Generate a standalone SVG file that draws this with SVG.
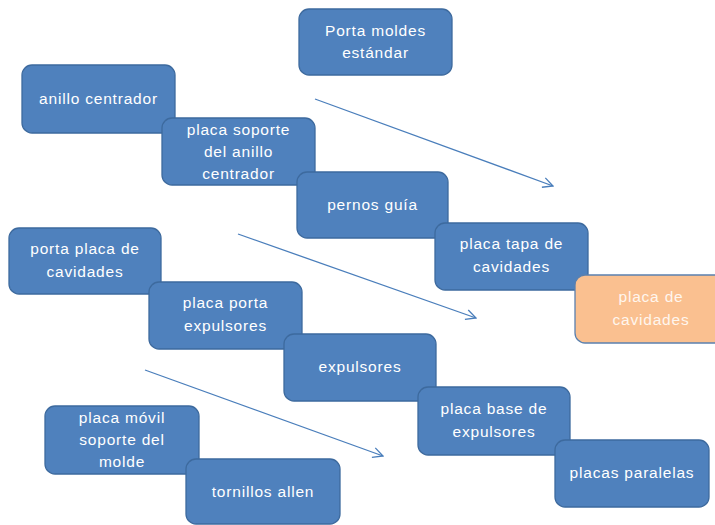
<svg xmlns="http://www.w3.org/2000/svg" width="715" height="525" viewBox="0 0 715 525">
<defs>
<style>
.b{fill:#4F81BD;stroke:#3D6A9E;stroke-width:1.3}
.o{fill:#FAC090;stroke:#5B80AE;stroke-width:1.3}
.t{font-family:"Liberation Sans",Arial,sans-serif;font-size:15.5px;letter-spacing:0.8px;fill:#FFFFFF;text-anchor:middle}
.to{fill:#FFF6EE}
.c{stroke:#4A7EBB;stroke-width:1.3;fill:none}
</style>
<marker id="ah" viewBox="0 0 12 12" refX="11" refY="6" markerWidth="12" markerHeight="12" markerUnits="userSpaceOnUse" orient="auto">
<path d="M1,1 L11,6 L1,11" fill="none" stroke="#4A7EBB" stroke-width="1.3"/>
</marker>
</defs>
<rect width="715" height="525" fill="#FFFFFF"/>
<g id="connectors">
<line class="c" x1="315" y1="99" x2="553" y2="186" marker-end="url(#ah)"/>
<line class="c" x1="238" y1="234" x2="476" y2="318" marker-end="url(#ah)"/>
<line class="c" x1="145" y1="370" x2="383" y2="456" marker-end="url(#ah)"/>
</g>
<g id="n1"><rect class="b" x="299" y="9" width="153" height="66" rx="10"/><text class="t" x="375.5" y="36">Porta moldes</text><text class="t" x="375.5" y="58">estándar</text></g>
<g id="n2"><rect class="b" x="22" y="65" width="153" height="68" rx="10"/><text class="t" x="98.5" y="104">anillo centrador</text></g>
<g id="n3"><rect class="b" x="162" y="118" width="153" height="67" rx="10"/><text class="t" x="238.5" y="135">placa soporte</text><text class="t" x="238.5" y="157">del anillo</text><text class="t" x="238.5" y="179">centrador</text></g>
<g id="n4"><rect class="b" x="297" y="172" width="151" height="66" rx="10"/><text class="t" x="372.5" y="210">pernos guía</text></g>
<g id="n5"><rect class="b" x="435" y="223" width="153" height="67" rx="10"/><text class="t" x="511.5" y="249">placa tapa de</text><text class="t" x="511.5" y="272">cavidades</text></g>
<g id="n6"><rect class="o" x="575" y="275" width="155" height="68" rx="10"/><text class="t to" x="651" y="302">placa de</text><text class="t to" x="651" y="325">cavidades</text></g>
<g id="n7"><rect class="b" x="9" y="228" width="152" height="66" rx="10"/><text class="t" x="85" y="254">porta placa de</text><text class="t" x="85" y="277">cavidades</text></g>
<g id="n8"><rect class="b" x="149" y="282" width="153" height="67" rx="10"/><text class="t" x="225.5" y="308">placa porta</text><text class="t" x="225.5" y="331">expulsores</text></g>
<g id="n9"><rect class="b" x="284" y="334" width="152" height="67" rx="10"/><text class="t" x="360" y="372">expulsores</text></g>
<g id="n10"><rect class="b" x="418" y="387" width="152" height="68" rx="10"/><text class="t" x="494" y="414">placa base de</text><text class="t" x="494" y="437">expulsores</text></g>
<g id="n11"><rect class="b" x="45" y="406" width="154" height="68" rx="10"/><text class="t" x="122" y="423">placa móvil</text><text class="t" x="122" y="445">soporte del</text><text class="t" x="122" y="467">molde</text></g>
<g id="n12"><rect class="b" x="186" y="459" width="154" height="65" rx="10"/><text class="t" x="263" y="497">tornillos allen</text></g>
<g id="n13"><rect class="b" x="555" y="440" width="154" height="67" rx="10"/><text class="t" x="632" y="478">placas paralelas</text></g>
</svg>
